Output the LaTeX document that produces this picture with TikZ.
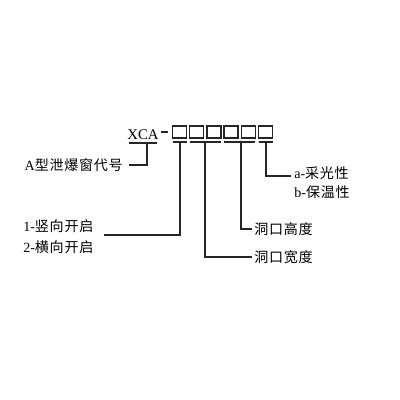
\documentclass[tikz,border=0pt]{standalone}
\usepackage{fontspec}
\setmainfont{Liberation Serif}
\newfontfamily\cjk[LetterSpace=5]{Noto Sans CJK SC}
\begin{document}
\begin{tikzpicture}[x=0.025cm,y=-0.025cm,
  ln/.style={line width=0.8pt,draw=black!85},
  bx/.style={draw=black!85,line width=0.9pt,minimum width=14*0.025cm,minimum height=12*0.025cm,inner sep=0pt},
  lbl/.style={font=\fontsize{10pt}{12pt}\selectfont,inner sep=0pt}]
\useasboundingbox (0,0) rectangle (400,400);
% code text
\node[lbl,anchor=base,font=\fontsize{10.5pt}{12pt}\selectfont] (xca) at (143,140) {XCA};
\coordinate (xl) at (129,143);
\coordinate (xr) at (157,143);
\coordinate (xt) at (147,143);
\draw[ln] (xl) -- (xr);
\coordinate (d1) at (161,132);
\coordinate (d2) at (168,132);
\draw[ln] (d1) -- (d2);
% boxes
\foreach \i/\x in {1/179.5,2/196.7,3/213.9,4/231.1,5/248.3,6/265.5}
  \node[bx] (b\i) at (\x,132) {};
% underlines
\coordinate (g1a) at (173,142); \coordinate (g1b) at (187,142);
\coordinate (g2a) at (190,142); \coordinate (g2b) at (221,142);
\coordinate (g3a) at (224,142); \coordinate (g3b) at (255,142);
\coordinate (g4a) at (259,142); \coordinate (g4b) at (273,142);
\draw[ln] (g1a) -- (g1b);
\draw[ln,line width=1.3pt] (g2a) -- (g2b);
\draw[ln] (g3a) -- (g3b);
\draw[ln] (g4a) -- (g4b);
\coordinate (t1) at (180,142);
\coordinate (t2) at (205,142);
\coordinate (t3) at (241,142);
\coordinate (t4) at (266,142);
% labels
\node[lbl,anchor=east] (la) at (123,165) {A{\cjk 型泄爆窗代号}};
\node[lbl,anchor=west] (l1) at (23,226) {1-{\cjk 竖向开启}};
\node[lbl,anchor=west] (l2) at (23,247) {2-{\cjk 横向开启}};
\coordinate (e1) at (104,235);
\node[lbl,anchor=west] (lh) at (254,229) {\cjk 洞口高度};
\node[lbl,anchor=west] (lw) at (254,257) {\cjk 洞口宽度};
\node[lbl,anchor=west] (lpa) at (294,173) {a-{\cjk 采光性}};
\node[lbl,anchor=west] (lpb) at (294,192) {b-{\cjk 保温性}};
\coordinate (e4) at (291,176);
% connectors
\draw[ln] (xt) |- ([xshift=6*0.025cm]la.east);
\draw[ln] (t1) |- (e1);
\draw[ln] (t2) |- ([xshift=-2*0.025cm]lw.west);
\draw[ln] (t3) |- ([xshift=-2*0.025cm]lh.west);
\draw[ln] (t4) |- (e4);
\end{tikzpicture}
\end{document}
